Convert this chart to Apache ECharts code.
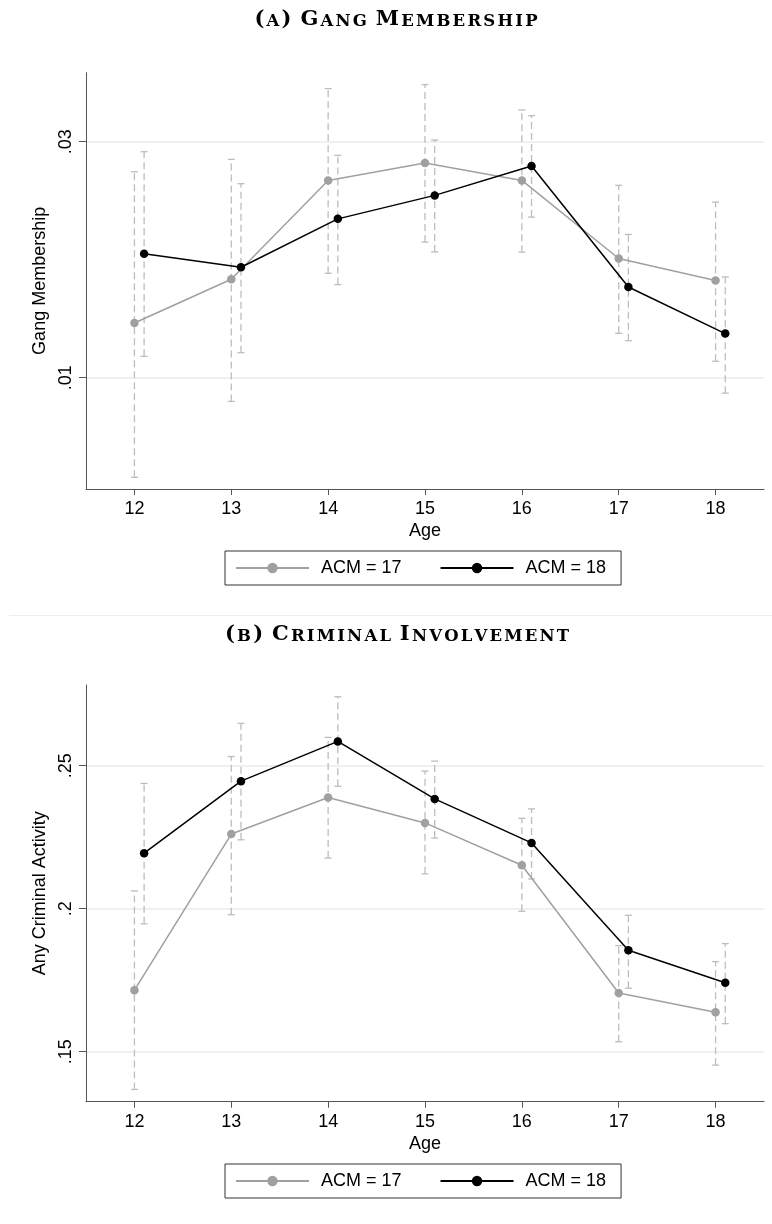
<!DOCTYPE html>
<html><head><meta charset="utf-8">
<script src="https://cdn.jsdelivr.net/npm/echarts@6/dist/echarts.min.js"></script>
<style>html,body{margin:0;padding:0;background:#fff}#c{width:772px;height:1224px}</style>
</head><body><div id="c"></div>
<script>
// ---- data ----
const ages = [12, 13, 14, 15, 16, 17, 18];
const ageTicks = [12, 13, 14, 15, 16, 17, 18];
const gangTicks = [0.01, 0.03];
const crimeTicks = [0.15, 0.2, 0.25];
const seriesNames = ['ACM = 17', 'ACM = 18'];
const titleA = '(a) Gang Membership';
const titleB = '(b) Criminal Involvement';

const gang17 = [0.01464, 0.01834, 0.02672, 0.02819, 0.02672, 0.0201, 0.01823];
const gang17Lo = [0.00156, 0.00799, 0.01885, 0.02149, 0.02064, 0.01376, 0.01139];
const gang17Hi = [0.02745, 0.0285, 0.0345, 0.03484, 0.03269, 0.0263, 0.02488];
const gang18 = [0.0205, 0.01936, 0.02346, 0.02545, 0.02794, 0.01769, 0.01374];
const gang18Lo = [0.01181, 0.01212, 0.01789, 0.02066, 0.02361, 0.01314, 0.00869];
const gang18Hi = [0.02915, 0.02644, 0.02885, 0.03014, 0.03221, 0.02214, 0.01854];

const crime17 = [0.1715, 0.2261, 0.2389, 0.23, 0.2152, 0.1705, 0.1638];
const crime17Lo = [0.1368, 0.1979, 0.2177, 0.2122, 0.1991, 0.1535, 0.1453];
const crime17Hi = [0.2062, 0.2532, 0.2599, 0.2481, 0.2316, 0.1871, 0.1815];
const crime18 = [0.2194, 0.2446, 0.2585, 0.2384, 0.223, 0.1855, 0.1741];
const crime18Lo = [0.1947, 0.2241, 0.2428, 0.2247, 0.2104, 0.1722, 0.1598];
const crime18Hi = [0.2438, 0.2648, 0.2741, 0.2516, 0.2349, 0.1977, 0.1878];

// ---- style ----
const SANS = 'Liberation Sans, Arial, Helvetica, sans-serif';
const SERIF = 'DejaVu Serif, Liberation Serif, serif';
const AXIS_C = '#555';
const GRID_C = '#e4eef2';
const GRAY = '#a0a0a0';
const BLACK = '#000';
const CI_C = '#bdbdbd';
const OFF17 = 0, OFF18 = 0.1;

function fmt(v) { return String(+v.toFixed(4)).replace(/^0\./, '.'); }

function xAxisCfg(gi) {
  return {
    type: 'value', gridIndex: gi, min: 11.5, max: 18.5,
    name: 'Age', nameLocation: 'middle', nameGap: 33,
    nameTextStyle: { fontSize: 18, color: '#000', fontFamily: SANS },
    axisLine: { show: true, onZero: false, lineStyle: { color: AXIS_C, width: 1 } },
    axisTick: { show: true, length: 6, customValues: ageTicks, lineStyle: { color: AXIS_C } },
    axisLabel: { customValues: ageTicks, margin: 11, fontSize: 18, color: '#000', fontFamily: SANS },
    splitLine: { show: false }
  };
}
function yAxisCfg(gi, min, max, ticks, name) {
  return {
    type: 'value', gridIndex: gi, min: min, max: max,
    name: name, nameLocation: 'middle', nameGap: 34, nameRotate: 90,
    nameTextStyle: { fontSize: 18, color: '#000', fontFamily: SANS },
    axisLine: { show: true, onZero: false, lineStyle: { color: AXIS_C, width: 1 } },
    axisTick: { show: true, length: 7, customValues: ticks, lineStyle: { color: AXIS_C } },
    axisLabel: { customValues: ticks, rotate: 90, margin: 11, fontSize: 18, color: '#000', fontFamily: SANS, formatter: fmt },
    splitLine: { show: true, lineStyle: { color: GRID_C, width: 1.5 } }
  };
}
function ciRender(params, api) {
  const x = api.value(0);
  const lo = api.coord([x, api.value(1)]);
  const hi = api.coord([x, api.value(2)]);
  const cw = 3.5;
  const st = { stroke: CI_C, lineWidth: 1.3 };
  return {
    type: 'group', children: [
      { type: 'line', shape: { x1: lo[0], y1: lo[1], x2: hi[0], y2: hi[1] }, style: Object.assign({ lineDash: [7, 4] }, st) },
      { type: 'line', shape: { x1: lo[0] - cw, y1: lo[1], x2: lo[0] + cw, y2: lo[1] }, style: st },
      { type: 'line', shape: { x1: hi[0] - cw, y1: hi[1], x2: hi[0] + cw, y2: hi[1] }, style: st }
    ]
  };
}
function ciSeries(id, gi, off, lo, hi) {
  return {
    id: id, type: 'custom', xAxisIndex: gi, yAxisIndex: gi, renderItem: ciRender,
    encode: { x: 0, y: [1, 2] }, silent: true, z: 1,
    data: ages.map((a, i) => [a + off, lo[i], hi[i]])
  };
}
function lineSeries(name, gi, off, vals, color) {
  return {
    name: name, type: 'line', xAxisIndex: gi, yAxisIndex: gi,
    data: ages.map((a, i) => [a + off, vals[i]]),
    symbol: 'circle', symbolSize: 8.5, showSymbol: true,
    itemStyle: { color: color }, lineStyle: { color: color, width: 1.5 },
    z: 3, silent: true, animation: false
  };
}
function legendCfg(top) {
  return {
    data: seriesNames, left: 225, top: top, orient: 'horizontal',
    itemWidth: 73, itemHeight: 13, itemGap: 38,
    padding: [8, 15, 8, 10], borderColor: '#333', borderWidth: 1,
    selectedMode: false,
    textStyle: { fontSize: 18, color: '#000', fontFamily: SANS, padding: [0, 0, 0, 7] }
  };
}
function smallCaps(str) {
  let out = '';
  for (const ch of str) {
    if (ch === ' ') out += '{sp| }';
    else if (ch >= 'a' && ch <= 'z') out += '{s|' + ch.toUpperCase() + '}';
    else out += '{b|' + ch + '}';
  }
  return out;
}
const richTitle = {
  b: { fontSize: 21, fontWeight: 'bold', fontFamily: SERIF, color: '#111', verticalAlign: 'bottom', padding: [0, 1.1, 0, 1.1] },
  s: { fontSize: 16.5, fontWeight: 'bold', fontFamily: SERIF, color: '#111', verticalAlign: 'bottom', padding: [0, 1.1, 0, 1.1] },
  sp: { fontSize: 21, fontFamily: SERIF, verticalAlign: 'bottom' }
};

const chart = echarts.init(document.getElementById('c'), null, { renderer: 'canvas' });
chart.setOption({
  backgroundColor: '#fff',
  animation: false,
  grid: [
    { left: 86, right: 8, top: 72.7, height: 416.3 },
    { left: 86, right: 8, top: 685, height: 416.7 }
  ],
  xAxis: [xAxisCfg(0), xAxisCfg(1)],
  yAxis: [
    yAxisCfg(0, 0.000568, 0.035847, gangTicks, 'Gang Membership'),
    yAxisCfg(1, 0.13252, 0.27822, crimeTicks, 'Any Criminal Activity')
  ],
  legend: [legendCfg(551), legendCfg(1164)],
  graphic: [
    { type: 'text', style: { text: smallCaps(titleA), rich: richTitle, x: 396, y: 19.5, align: 'center', verticalAlign: 'middle' } },
    { type: 'text', style: { text: smallCaps(titleB), rich: richTitle, x: 397, y: 635, align: 'center', verticalAlign: 'middle' } },
    { type: 'line', shape: { x1: 9, y1: 615.5, x2: 772, y2: 615.5 }, style: { stroke: '#ececec', lineWidth: 1 } }
  ],
  series: [
    ciSeries('ciGang17', 0, OFF17, gang17Lo, gang17Hi),
    ciSeries('ciGang18', 0, OFF18, gang18Lo, gang18Hi),
    lineSeries(seriesNames[0], 0, OFF17, gang17, GRAY),
    lineSeries(seriesNames[1], 0, OFF18, gang18, BLACK),
    ciSeries('ciCrime17', 1, OFF17, crime17Lo, crime17Hi),
    ciSeries('ciCrime18', 1, OFF18, crime18Lo, crime18Hi),
    lineSeries(seriesNames[0], 1, OFF17, crime17, GRAY),
    lineSeries(seriesNames[1], 1, OFF18, crime18, BLACK)
  ]
});
</script>
</body></html>
